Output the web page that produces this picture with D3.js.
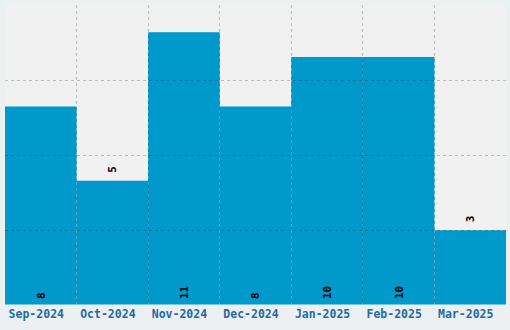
<!DOCTYPE html>
<html>
<head>
<meta charset="utf-8">
<script src="https://cdn.jsdelivr.net/npm/d3@7"></script>
<style>
  html, body { margin: 0; padding: 0; background: #edf0f0; }
  svg { display: block; }
</style>
</head>
<body>
<svg id="chart" width="510" height="330"></svg>
<script>
const categories = ["Sep-2024", "Oct-2024", "Nov-2024", "Dec-2024", "Jan-2025", "Feb-2025", "Mar-2025"];
const values = [8, 5, 11, 8, 10, 10, 3];
const outsideLabels = ["Oct-2024", "Mar-2025"];
const yMax = 12.1;
const gridCount = 4;

const W = 510, H = 330;
const margin = { left: 5, right: 4, top: 5, bottom: 25.5 };
const svg = d3.select("#chart");

const x = d3.scaleBand().domain(categories).range([margin.left, W - margin.right]).padding(0);
const y = d3.scaleLinear().domain([0, yMax]).range([H - margin.bottom, margin.top]);

// plot background
svg.append("rect")
  .attr("x", margin.left).attr("y", margin.top)
  .attr("width", W - margin.left - margin.right)
  .attr("height", H - margin.top - margin.bottom)
  .attr("fill", "#f1f1f1");

const data = categories.map((c, i) => ({ c, v: values[i] }));

// bars
svg.append("g").selectAll("rect").data(data).join("rect")
  .attr("x", d => x(d.c))
  .attr("y", d => y(d.v))
  .attr("width", x.bandwidth())
  .attr("height", d => y(0) - y(d.v))
  .attr("fill", "#0099cc");

// grid
const grid = svg.append("g")
  .attr("stroke", "#000").attr("stroke-opacity", 0.22)
  .attr("stroke-dasharray", "3,3").attr("stroke-width", 1);
const gridVals = d3.range(1, gridCount).map(i => yMax * i / gridCount);
grid.selectAll("line.h").data(gridVals).join("line")
  .attr("class", "h")
  .attr("x1", margin.left).attr("x2", W - margin.right)
  .attr("y1", d => Math.round(y(d)) + 0.5).attr("y2", d => Math.round(y(d)) + 0.5);
grid.selectAll("line.v").data(categories.slice(1)).join("line")
  .attr("class", "v")
  .attr("x1", d => Math.floor(x(d)) + 0.5).attr("x2", d => Math.floor(x(d)) + 0.5)
  .attr("y1", margin.top).attr("y2", H - margin.bottom);

// x axis
const xAxis = svg.append("g")
  .attr("transform", `translate(0,${H - margin.bottom})`)
  .call(d3.axisBottom(x).tickSize(0).tickPadding(5.3));
xAxis.select(".domain").remove();
xAxis.selectAll("text")
  .attr("dx", "-4.5")
  .attr("fill", "#1f6aa5")
  .style("font-family", "'DejaVu Sans Mono', monospace")
  .style("font-weight", "bold")
  .style("font-size", "11.5px");

// value labels
svg.append("g").selectAll("text").data(data).join("text")
  .attr("transform", d => {
    const cx = x(d.c) + x.bandwidth() / 2;
    const cy = outsideLabels.includes(d.c) ? y(d.v) - 8 : y(0) - 5.5;
    return `translate(${cx},${cy}) rotate(-90)`;
  })
  .attr("dy", "0.35em")
  .attr("text-anchor", "start")
  .attr("fill", "#000")
  .style("font-family", "'DejaVu Sans Mono', monospace")
  .style("font-weight", "bold")
  .style("font-size", "11px")
  .text(d => d.v);
</script>
</body>
</html>
